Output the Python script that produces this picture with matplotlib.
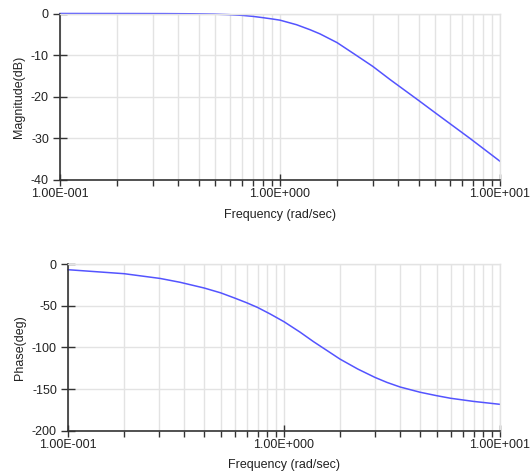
import numpy as np
import matplotlib
matplotlib.use("Agg")
import matplotlib.pyplot as plt
from matplotlib.ticker import FixedLocator, NullFormatter

plt.rcParams['font.family'] = ['Liberation Sans', 'DejaVu Sans']

# Magnitude (dB)
freq_mag = [0.1, 0.2, 0.3, 0.4, 0.5, 0.59, 0.673, 0.755, 0.836, 0.918, 1.0,
            1.19, 1.37, 1.52, 1.818, 2.2, 2.64, 3.17, 4.27, 5.09, 5.9, 7.3,
            10.0]
mag_db = [0.0, -0.01, -0.03, -0.07, -0.15, -0.28, -0.45, -0.7, -1.0, -1.3,
          -1.6, -2.7, -3.9, -4.9, -7.0, -9.9, -12.7, -15.9, -20.9, -23.9,
          -26.4, -30.0, -35.5]

# Phase (deg)
freq_ph = [0.1, 0.182, 0.267, 0.33, 0.427, 0.509, 0.59, 0.673, 0.755, 0.86,
           1.0, 1.186, 1.37, 1.6, 1.818, 2.2, 2.64, 3.0, 3.45, 4.27, 5.09,
           5.9, 7.55, 10.0]
phase_deg = [-6.5, -11.3, -17.0, -21.6, -28.5, -34.3, -40.5, -46.3, -51.9,
             -59.5, -69.0, -81.5, -93.0, -104.5, -114.0, -126.0, -136.0,
             -142.0, -147.5, -153.8, -157.9, -161.0, -164.8, -168.3]

mag_ticks = [0, -10, -20, -30, -40]
phase_ticks = [0, -50, -100, -150, -200]
major_x = [0.1, 1.0, 10.0]
major_labels = ['1.00E-001', '1.00E+000', '1.00E+001']

# chart library splits each decade into 11 equal linear steps
minor_x = [d * (1 + k * 9 / 11) for d in (0.1, 1.0) for k in range(1, 11)]

line_col = '#5454ff'
grid_col = '#e3e3e3'
axis_col = '#333333'
text_col = '#222222'

fig = plt.figure(figsize=(5.32, 4.74), dpi=100)
ax1 = fig.add_axes([60 / 532, 1 - 180 / 474, 440 / 532, 166.5 / 474])
ax2 = fig.add_axes([68 / 532, 1 - 430.7 / 474, 432 / 532, 166.4 / 474])


def style(ax, yticks, ylabel):
    ax.set_xscale('log')
    ax.set_xlim(0.1, 10)
    ax.set_ylim(yticks[-1], yticks[0])
    ax.xaxis.set_major_locator(FixedLocator(major_x))
    ax.xaxis.set_minor_locator(FixedLocator(minor_x))
    ax.xaxis.set_minor_formatter(NullFormatter())
    ax.set_xticklabels(major_labels)
    ax.set_yticks(yticks)
    ax.set_yticklabels([str(v) for v in yticks])
    ax.grid(True, which='both', axis='x', color=grid_col, lw=1)
    ax.grid(True, which='major', axis='y', color=grid_col, lw=1)
    ax.set_axisbelow(True)
    for s in ('top', 'right'):
        ax.spines[s].set_color(grid_col)
        ax.spines[s].set_linewidth(1)
    for s in ('left', 'bottom'):
        ax.spines[s].set_color(axis_col)
        ax.spines[s].set_linewidth(1.2)
    ax.tick_params(axis='x', which='major', direction='inout', length=8,
                   width=1, color=axis_col, labelsize=9, labelcolor=text_col, pad=2)
    ax.tick_params(axis='x', which='minor', direction='out', length=4,
                   width=1, color=axis_col)
    ax.tick_params(axis='y', which='major', direction='inout', length=10,
                   width=1, color=axis_col, labelsize=9, labelcolor=text_col, pad=3)
    ax.set_xlabel('Frequency (rad/sec)', fontsize=9, color=text_col, labelpad=6)
    ax.set_ylabel(ylabel, fontsize=9, color=text_col, labelpad=4)


ax1.plot(freq_mag, mag_db, color=line_col, lw=1.1, clip_on=False)
style(ax1, mag_ticks, 'Magnitude(dB)')

ax2.plot(freq_ph, phase_deg, color=line_col, lw=1.1, clip_on=False)
style(ax2, phase_ticks, 'Phase(deg)')

fig.savefig('out.png', dpi=100)
